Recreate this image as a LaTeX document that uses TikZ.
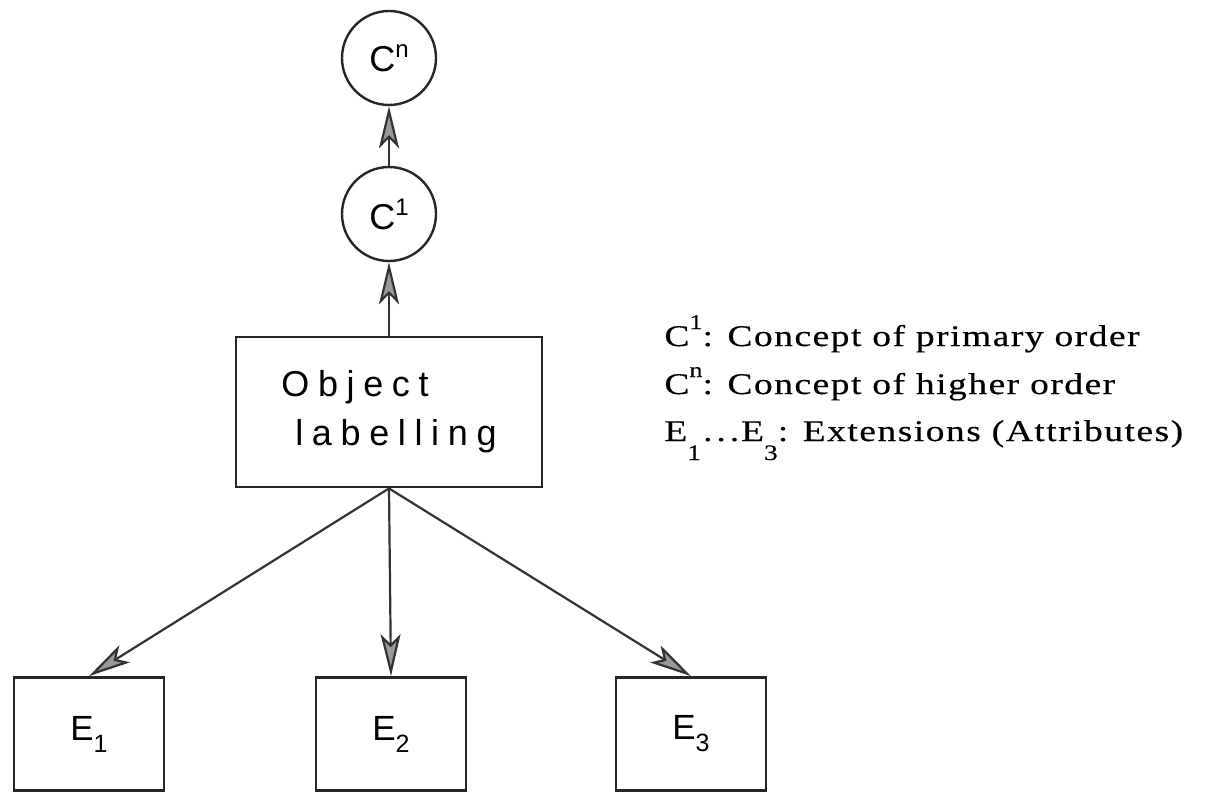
\documentclass[tikz,border=0pt]{standalone}
\usepackage{fontspec}
\usepackage{tikz}
\usetikzlibrary{positioning,arrows.meta}
\setsansfont{Liberation Sans}
\newfontfamily\legendfont{Liberation Serif}[FakeStretch=1.25,LetterSpace=5,FakeBold=0.4]
\newfontfamily\labelfont{Liberation Sans}[LetterSpace=24]
\newcommand\legsup[1]{\raisebox{8.5pt}{\fontsize{10.5}{11}\selectfont #1}}
\newcommand\legsub[1]{\raisebox{-9.5pt}{\fontsize{11}{11}\selectfont #1}}
\newcommand\csup[1]{\raisebox{7pt}{\fontsize{12}{12}\selectfont #1}}
\newcommand\esub[1]{\raisebox{-6pt}{\fontsize{12.5}{12}\selectfont #1}}
\tikzset{%
  concept/.style={circle,draw=black!85,line width=1.2pt,minimum size=47pt,inner sep=0pt,
    font=\sffamily\fontsize{18}{18}\selectfont},
  attr/.style={rectangle,draw=black!85,line width=1.4pt,minimum width=75pt,minimum height=56.5pt,
    font=\sffamily\fontsize{17.5}{18}\selectfont},
  objbox/.style={rectangle,draw=black!85,line width=1.4pt,minimum width=153pt,minimum height=75pt,
    align=left,font=\labelfont\fontsize{18}{24.5}\selectfont},
  link/.style={draw=black!80,line width=1.1pt,-{Stealth[length=21pt,width=10pt,inset=5pt,fill=black!40]}},
  legend/.style={anchor=base west,inner sep=0pt,font=\legendfont\fontsize{15}{15}\selectfont}
}
\begin{document}
\begin{tikzpicture}[x=0.5pt,y=-0.5pt]
  \useasboundingbox (0,0) rectangle (1205,792);

  \node [concept] (cn) at (389,58) {C\csup{n}};
  \node [concept] (c1) at (389,214) {C\csup{1}};
  \node [objbox] (obj) at (389,412) {Object\\\hspace*{7pt}labelling};
  \node [attr] (e1) at (89,734) {E\esub{1}};
  \node [attr] (e2) at (391,734) {E\esub{2}};
  \node [attr] (e3) at (691,734) {E\esub{3}};

  \draw [link] (c1) -- (cn);
  \draw [link] (obj) -- (c1);
  \draw [link] (obj.south) -- (e1.north);
  \draw [link] (obj.south) -- (e2.north);
  \draw [link] (obj.south) -- (e3.north);

  \node [legend] (def1) at (664,346) {C\legsup{1}: Concept of primary order};
  \node [legend,below=24pt of def1.base west,anchor=base west] (defn) {C\legsup{n}: Concept of higher order};
  \node [legend,below=23.5pt of defn.base west,anchor=base west] (defe)
    {E\legsub{1}\kern1pt.\kern2pt.\kern2pt.\kern1ptE\legsub{3}: Extensions (Attributes)};
\end{tikzpicture}
\end{document}
